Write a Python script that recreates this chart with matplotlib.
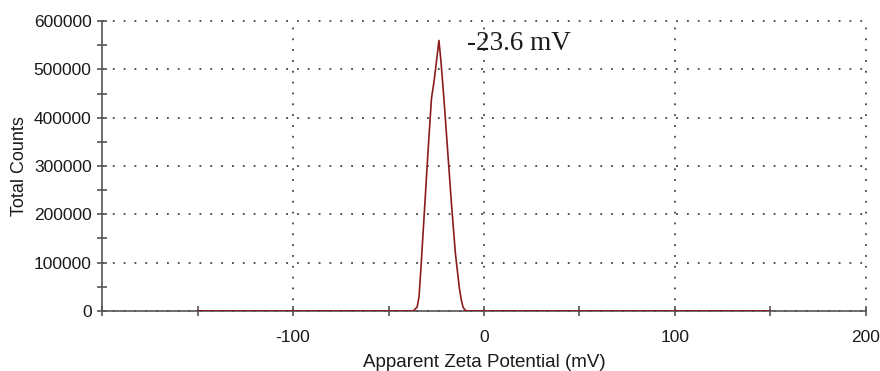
import matplotlib
matplotlib.use("Agg")
import matplotlib.pyplot as plt
from matplotlib.ticker import MultipleLocator

plt.rcParams["axes.unicode_minus"] = False

# Data
zeta_mv = [-150, -100, -50, -37, -35, -34, -33, -31, -29, -27.5, -26, -24.5, -23.6,
           -22.5, -21, -19, -17, -15, -13, -12, -11, -10, -9, 0, 50, 100, 150]
counts = [0, 0, 0, 0, 8000, 30000, 90000, 220000, 350000, 440000, 480000, 530000, 560000,
          515000, 440000, 330000, 220000, 120000, 50000, 25000, 8000, 2000, 0, 0, 0, 0, 0]

x_major = [-100, 0, 100, 200]
y_major = [0, 100000, 200000, 300000, 400000, 500000, 600000]
peak_label = "-23.6 mV"

fig = plt.figure(figsize=(8.8, 3.71), dpi=100)
ax = fig.add_axes([0.116, 0.162, 0.868, 0.781])

ax.plot(zeta_mv, counts, color="#8b1c1c", lw=1.2, zorder=3)

ax.set_xlim(-200, 200)
ax.set_ylim(0, 600000)
ax.set_xticks(x_major)
ax.set_yticks(y_major)
ax.xaxis.set_minor_locator(MultipleLocator(50))
ax.yaxis.set_minor_locator(MultipleLocator(50000))

ax.grid(True, which="major", color="#444444", linestyle=(0, (1, 5)), lw=1.3)
for gl in ax.get_xgridlines() + ax.get_ygridlines():
    gl.set_clip_on(False)

for s in ["top", "right"]:
    ax.spines[s].set_visible(False)
for s in ["left", "bottom"]:
    ax.spines[s].set_color("#555555")
    ax.spines[s].set_linewidth(1.2)

ax.tick_params(which="both", direction="inout", color="#555555", width=1.2, length=7)
ax.tick_params(axis="both", which="major", labelsize=12.5, labelcolor="#1a1a1a")
ax.tick_params(axis="x", which="major", pad=10)
ax.tick_params(axis="y", which="major", pad=4)
for lab in ax.get_xticklabels() + ax.get_yticklabels():
    lab.set_fontfamily("Liberation Sans")

ax.set_xlabel("Apparent Zeta Potential (mV)", fontsize=13.5, family="Liberation Sans",
              color="#1a1a1a", labelpad=7)
ax.set_ylabel("Total Counts", fontsize=13, family="Liberation Sans",
              color="#1a1a1a", labelpad=4)

ax.text(-9, 540000, peak_label, fontsize=19.5, family="Liberation Serif",
        color="#1a1a1a", va="baseline", ha="left")

fig.savefig("out.png", dpi=100)
